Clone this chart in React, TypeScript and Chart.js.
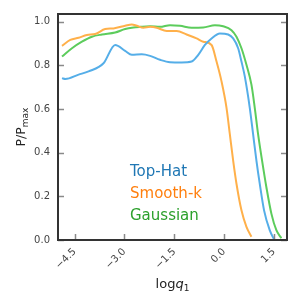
import React, { useEffect, useRef } from "react";
import { Chart, registerables } from "chart.js";

Chart.register(...registerables);

// ---- data ----
const topHatX = [-4.88, -4.78, -4.38, -4.08, -3.63, -3.28, -2.98, -2.78, -2.48, -2.23, -1.93, -1.63, -1.28, -0.98, -0.78, -0.58, -0.38, -0.13, 0.12, 0.27, 0.42, 0.52, 0.62, 0.77, 0.87, 0.97, 1.07, 1.2, 1.37, 1.5];
const topHatY = [0.742, 0.738, 0.758, 0.773, 0.81, 0.894, 0.867, 0.849, 0.851, 0.844, 0.826, 0.815, 0.814, 0.818, 0.849, 0.894, 0.924, 0.947, 0.942, 0.924, 0.879, 0.818, 0.75, 0.606, 0.485, 0.364, 0.258, 0.136, 0.045, 0.003];

const smoothX = [-4.88, -4.63, -4.38, -4.13, -3.88, -3.58, -3.33, -2.98, -2.78, -2.63, -2.43, -2.23, -2.03, -1.73, -1.43, -1.13, -0.83, -0.63, -0.38, -0.23, -0.08, 0.07, 0.17, 0.27, 0.37, 0.52, 0.67, 0.82];
const smoothY = [0.89, 0.917, 0.927, 0.94, 0.944, 0.967, 0.97, 0.982, 0.988, 0.982, 0.973, 0.977, 0.973, 0.958, 0.958, 0.942, 0.924, 0.909, 0.894, 0.818, 0.727, 0.606, 0.485, 0.364, 0.258, 0.136, 0.06, 0.015];

const gaussX = [-4.88, -4.58, -4.28, -3.98, -3.68, -3.28, -2.98, -2.73, -2.53, -2.23, -1.93, -1.63, -1.33, -0.98, -0.63, -0.28, -0.03, 0.22, 0.37, 0.52, 0.67, 0.82, 0.92, 1.02, 1.14, 1.27, 1.42, 1.57, 1.72];
const gaussY = [0.841, 0.879, 0.909, 0.932, 0.942, 0.951, 0.967, 0.974, 0.977, 0.98, 0.977, 0.985, 0.982, 0.973, 0.974, 0.985, 0.98, 0.962, 0.932, 0.879, 0.803, 0.712, 0.606, 0.485, 0.364, 0.242, 0.121, 0.045, 0.008];

const seriesNames = ["Top-Hat", "Smooth-k", "Gaussian"];
const xTicks = [-4.5, -3.0, -1.5, 0.0, 1.5];
const yTicks = [0.0, 0.2, 0.4, 0.6, 0.8, 1.0];
const xRange = [-5.0, 1.89];
const yRange = [0, 1.036];

const lineColors = ["#55aee8", "#ffb04a", "#5ccc5c"];
const textColors = ["#1f77b4", "#ff7f0e", "#2ca02c"];

const FONT = "'DejaVu Sans', sans-serif";

const decorPlugin = {
  id: "decor",
  afterDraw(chart: any) {
    const { ctx, chartArea: a, scales } = chart;
    const xs = scales.x;
    const ys = scales.y;
    ctx.save();
    // inward ticks
    ctx.strokeStyle = "#8a8a8a";
    ctx.lineWidth = 1.5;
    const tl = 6;
    ctx.beginPath();
    for (const v of yTicks) {
      const y = Math.round(ys.getPixelForValue(v)) + 0.5;
      ctx.moveTo(a.left, y);
      ctx.lineTo(a.left + tl, y);
      ctx.moveTo(a.right, y);
      ctx.lineTo(a.right - tl, y);
    }
    for (const v of xTicks) {
      const x = Math.round(xs.getPixelForValue(v)) + 0.5;
      ctx.moveTo(x, a.bottom);
      ctx.lineTo(x, a.bottom - tl);
    }
    ctx.stroke();
    // spines
    ctx.strokeStyle = "#333333";
    ctx.lineWidth = 2;
    ctx.strokeRect(a.left, a.top, a.right - a.left, a.bottom - a.top);

    // legend text
    ctx.font = `15px ${FONT}`;
    ctx.textAlign = "left";
    ctx.textBaseline = "alphabetic";
    seriesNames.forEach((n, i) => {
      ctx.fillStyle = textColors[i];
      ctx.fillText(n, 130, 176 + i * 22);
    });

    // x title: log q_1
    ctx.fillStyle = "#222";
    ctx.textBaseline = "alphabetic";
    const cx = (a.left + a.right) / 2;
    const by = 288;
    ctx.font = `13px ${FONT}`;
    const w1 = ctx.measureText("log").width;
    ctx.font = `italic 13px ${FONT}`;
    const w2 = ctx.measureText("q").width;
    ctx.font = `9px ${FONT}`;
    const w3 = ctx.measureText("1").width;
    let x0 = cx - (w1 + w2 + w3) / 2;
    ctx.font = `13px ${FONT}`;
    ctx.fillText("log", x0, by);
    ctx.font = `italic 13px ${FONT}`;
    ctx.fillText("q", x0 + w1, by);
    ctx.font = `9px ${FONT}`;
    ctx.fillText("1", x0 + w1 + w2, by + 3);

    // y title: P/P_max
    ctx.translate(25, (a.top + a.bottom) / 2);
    ctx.rotate(-Math.PI / 2);
    ctx.font = `12.5px ${FONT}`;
    const t1 = ctx.measureText("P/P").width;
    ctx.font = `9px ${FONT}`;
    const t2 = ctx.measureText("max").width;
    const s = -(t1 + t2) / 2;
    ctx.font = `12.5px ${FONT}`;
    ctx.fillText("P/P", s, 0);
    ctx.font = `9px ${FONT}`;
    ctx.fillText("max", s + t1, 3);
    ctx.restore();
  },
};

const fmt = (v: number) => v.toFixed(1).replace("-", "\u2212");

export default function App() {
  const ref = useRef<HTMLCanvasElement | null>(null);
  useEffect(() => {
    if (!ref.current) return;
    const mk = (xs: number[], ys: number[]) => xs.map((x, i) => ({ x, y: ys[i] }));
    const datas = [mk(topHatX, topHatY), mk(smoothX, smoothY), mk(gaussX, gaussY)];
    const chart = new Chart(ref.current, {
      type: "line",
      data: {
        datasets: datas.map((d, i) => ({
          label: seriesNames[i],
          data: d,
          borderColor: lineColors[i],
          borderWidth: 2,
          pointRadius: 0,
          fill: false,
          cubicInterpolationMode: "monotone" as const,
        })),
      },
      options: {
        responsive: false,
        animation: false,
        layout: { padding: { top: 12, right: 13, left: 0, bottom: 0 } },
        plugins: { legend: { display: false }, tooltip: { enabled: false } },
        scales: {
          x: {
            type: "linear",
            min: xRange[0],
            max: xRange[1],
            grid: { display: false, drawTicks: false },
            border: { display: false },
            afterBuildTicks: (s: any) => {
              s.ticks = xTicks.map((v) => ({ value: v }));
            },
            afterFit: (s: any) => {
              s.height = 66;
            },
            ticks: {
              autoSkip: false,
              minRotation: 45,
              maxRotation: 45,
              padding: 6,
              color: "#444",
              font: { family: FONT, size: 10 },
              callback: (v: any) => fmt(Number(v)),
            },
          },
          y: {
            type: "linear",
            min: yRange[0],
            max: yRange[1],
            grid: { display: false, drawTicks: false },
            border: { display: false },
            afterBuildTicks: (s: any) => {
              s.ticks = yTicks.map((v) => ({ value: v }));
            },
            afterFit: (s: any) => {
              s.width = 58;
            },
            ticks: {
              autoSkip: false,
              padding: 8,
              color: "#444",
              font: { family: FONT, size: 10 },
              callback: (v: any) => Number(v).toFixed(1),
            },
          },
        },
      },
      plugins: [decorPlugin],
    });
    return () => chart.destroy();
  }, []);
  return (
    <div style={{ position: "fixed", left: 0, top: 0, width: 300, height: 306, background: "#fff" }}>
      <canvas ref={ref} width={300} height={306} style={{ width: 300, height: 306 }} />
    </div>
  );
}
